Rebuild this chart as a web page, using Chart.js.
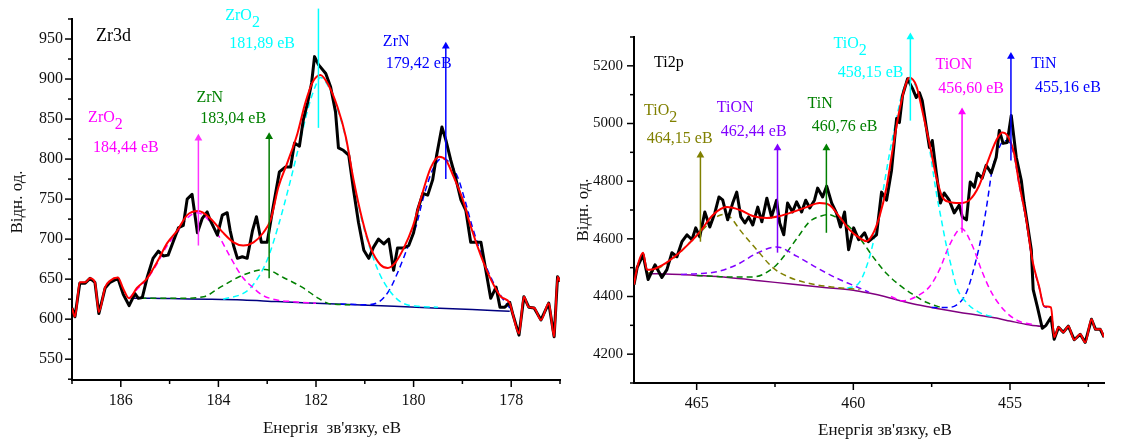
<!DOCTYPE html>
<html>
<head>
<meta charset="utf-8">
<script src="https://cdn.jsdelivr.net/npm/chart.js@4.4.1/dist/chart.umd.min.js"></script>
<style>
  html, body { margin: 0; padding: 0; background: #fff; }
  #wrap { position: relative; width: 1122px; height: 445px; }
  .panel { position: absolute; top: 0; height: 445px; }
  #zrBox { left: 0; width: 575px; }
  #tiBox { left: 575px; width: 547px; }
</style>
</head>
<body>
<div id="wrap">
  <div class="panel" id="zrBox"><canvas id="zrChart" width="575" height="445"></canvas></div>
  <div class="panel" id="tiBox"><canvas id="tiChart" width="547" height="445"></canvas></div>
</div>
<script>
// ---------- Zr3d ----------
const zrExpE = [187.00,186.94,186.84,186.73,186.63,186.53,186.45,186.32,186.22,186.06,185.95,185.83,185.71,185.64,185.56,185.46,185.34,185.23,185.13,185.03,184.93,184.82,184.72,184.64,184.54,184.43,184.33,184.23,184.17,184.02,183.92,183.82,183.76,183.69,183.61,183.51,183.41,183.30,183.22,183.12,183.00,182.89,182.75,182.63,182.52,182.44,182.34,182.26,182.17,182.09,182.03,181.95,181.80,181.70,181.60,181.54,181.44,181.33,181.23,181.13,181.02,180.92,180.82,180.72,180.61,180.51,180.41,180.33,180.20,180.10,180.00,179.92,179.81,179.71,179.61,179.53,179.42,179.34,179.24,179.14,179.03,178.93,178.83,178.72,178.62,178.52,178.42,178.31,178.23,178.13,178.03,177.97,177.84,177.74,177.64,177.53,177.39,177.23,177.12,177.05,177.00];
const zrExp = [614,603,645,645,651,646,607,639,646,651,631,617,632,626,627,652,676,685,679,680,696,714,717,750,756,708,726,734,724,705,730,733,711,692,676,678,676,711,728,696,696,736,784,790,790,820,816,849,871,895,928,918,907,890,859,814,811,805,761,721,686,676,690,700,694,700,661,689,689,692,708,736,757,755,774,804,840,824,799,777,749,736,696,696,696,661,626,640,615,615,621,607,580,628,615,614,599,620,578,653,647];

const zrFitE = [187.00,186.94,186.84,186.73,186.63,186.53,186.45,186.32,186.22,186.06,185.95,185.83,185.67,185.46,185.25,185.05,184.84,184.64,184.41,184.17,183.92,183.69,183.49,183.28,183.08,182.93,182.77,182.59,182.38,182.22,182.07,181.91,181.74,181.56,181.39,181.23,181.05,180.88,180.68,180.53,180.37,180.20,180.02,179.85,179.65,179.48,179.34,179.18,178.99,178.83,178.62,178.42,178.21,178.03,177.97,177.84,177.74,177.64,177.53,177.39,177.23,177.12,177.05,177.00];
const zrFit = [614,603,646,646,651,646,609,640,648,652,638,626,639,651,672,695,711,730,735,726,709,696,692,696,708,724,765,795,832,870,896,905,892,865,828,774,724,689,668,664,671,689,715,751,789,803,799,778,749,716,679,650,628,620,607,582,628,615,614,599,620,578,653,647];

const zrBaseE = [185.75,185.4,184.8,184.2,183.5,182.8,182.0,181.2,180.4,179.6,178.8,178.03];
const zrBase = [626,626,625.5,625,624,622,620,618,616,614,612,610];

const zrO2aE = [185.83,185.67,185.46,185.25,185.05,184.84,184.64,184.44,184.25,184.02,183.76,183.5,183.3,183.1,182.8,182.5,182.0];
const zrO2a = [626,637,650,670,692,708,726,733,727,707,678,652,640,630,624,622,620];

const zrNaE = [185.6,184.8,184.3,183.96,183.5,183.04,182.67,182.26,182.0,181.7,181.3];
const zrNa = [626,626,628,640,655,662,652,639,628,619,618];

const zrO2bE = [183.9,183.5,183.3,183.0,182.78,182.52,182.32,182.15,182.0,181.91,181.74,181.56,181.39,181.23,181.05,180.88,180.7,180.5,180.25,179.9,179.5];
const zrO2b = [625,632,642,674,715,774,824,866,893,902,890,862,826,772,721,686,657,636,621,616,615];

const zrNbE = [181.5,181.0,180.7,180.5,180.3,180.12,179.95,179.8,179.6,179.42,179.3,179.1,178.95,178.8,178.6,178.4,178.2,178.03];
const zrNb = [619,618,622,636,662,690,716,752,788,801,798,778,749,716,679,650,628,614];

const zrArrowE = [184.41, 182.96, 181.95, 179.34];
const zrArrowLow = [692, 651, 839, 775];
const zrArrowHigh = [826, 828, 988, 941];
const zrArrowColor = ['#ff33ff', '#007a00', '#00ffff', '#0000ff'];

const zrYTicks = [550, 600, 650, 700, 750, 800, 850, 900, 950];
const zrYLabels = ['550', '600', '650', '700', '750', '800', '850', '900', '950'];
const zrYMinor = [525, 575, 625, 675, 725, 775, 825, 875, 925, 975];
const zrXTicks = [186, 184, 182, 180, 178];
const zrXLabels = ['186', '184', '182', '180', '178'];
const zrXMinor = [187, 185, 183, 181, 179, 177];

// ---------- Ti2p ----------
const tiExpE = [467.00,466.90,466.71,466.55,466.33,466.11,465.95,465.79,465.63,465.47,465.31,465.15,465.03,464.90,464.74,464.58,464.42,464.29,464.17,464.01,463.85,463.72,463.59,463.46,463.34,463.21,463.05,462.92,462.76,462.61,462.45,462.35,462.22,462.10,461.94,461.81,461.65,461.52,461.39,461.24,461.14,460.98,460.85,460.69,460.54,460.41,460.28,460.15,459.99,459.83,459.64,459.52,459.26,459.10,458.94,458.78,458.62,458.53,458.43,458.27,458.11,457.99,457.89,457.80,457.67,457.57,457.48,457.35,457.22,457.10,456.94,456.78,456.62,456.52,456.39,456.27,456.14,456.04,455.89,455.76,455.60,455.44,455.34,455.22,455.09,454.96,454.80,454.64,454.55,454.45,454.32,454.26,454.13,453.97,453.85,453.69,453.59,453.45,453.30,453.14,452.95,452.76,452.60,452.40,452.27,452.12,452.00];
const tiExp = [4441,4500,4545,4459,4510,4466,4493,4552,4538,4590,4614,4597,4638,4607,4693,4641,4690,4745,4735,4666,4724,4762,4676,4655,4676,4648,4710,4659,4741,4676,4734,4655,4614,4724,4693,4728,4693,4734,4707,4734,4776,4745,4783,4724,4690,4641,4693,4562,4638,4597,4621,4590,4614,4762,4734,4838,5017,5003,5097,5155,5121,5090,5107,5079,4986,4917,4941,4828,4724,4759,4734,4690,4717,4676,4666,4797,4779,4828,4810,4855,4828,4883,4976,4931,4934,5028,4883,4803,4724,4655,4562,4424,4366,4290,4300,4328,4252,4293,4276,4297,4250,4269,4241,4321,4286,4286,4259];

const tiFitE = [467.00,466.90,466.71,466.59,466.49,466.08,465.63,465.22,464.90,464.48,464.04,463.62,463.21,462.76,462.35,461.94,461.49,461.08,460.76,460.44,460.12,459.80,459.58,459.39,459.17,458.94,458.75,458.53,458.31,458.21,457.99,457.80,457.57,457.35,457.16,456.94,456.62,456.30,455.98,455.73,455.44,455.25,455.09,454.87,454.71,454.48,454.29,454.07,453.91,453.69,453.59,453.45,453.30,453.14,452.95,452.76,452.60,452.40,452.27,452.12,452.00];
const tiFit = [4441,4500,4552,4493,4493,4510,4545,4586,4624,4683,4710,4700,4679,4672,4679,4693,4710,4724,4717,4676,4631,4603,4592,4614,4676,4779,4907,5045,5141,5159,5131,5045,4931,4814,4745,4728,4724,4734,4786,4862,4941,4969,4959,4897,4793,4666,4528,4434,4366,4362,4259,4293,4276,4297,4250,4269,4241,4321,4286,4286,4259];

const tiBaseE = [466.55,465.5,465.0,464.0,463.0,462.0,461.0,460.0,459.5,459.0,458.5,458.0,457.5,457.0,456.5,456.0,455.5,455.0,454.5,454.0,453.85];
const tiBase = [4480,4476,4473,4466,4455,4443,4432,4422,4412,4400,4385,4372,4362,4352,4343,4335,4326,4315,4304,4297,4300];

const tiO2aE = [466.55,466.1,465.6,465.2,464.9,464.6,464.3,464.1,463.9,463.62,463.08,462.57,462.03,461.39,460.6,459.8];
const tiO2a = [4480,4505,4545,4590,4620,4655,4680,4685,4672,4631,4562,4500,4466,4445,4432,4424];

const tiONaE = [465.5,464.99,464.36,463.72,463.08,462.45,461.81,461.17,460.54,460.03,459.5];
const tiONa = [4476,4479,4486,4510,4550,4572,4540,4500,4464,4440,4415];

const tiNaE = [465.0,464.0,463.2,462.57,462.25,461.81,461.39,461.0,460.76,460.54,460.12,459.71,459.39,458.94,458.53,458.11,457.67,457.2];
const tiNa = [4473,4468,4468,4498,4535,4600,4660,4680,4684,4674,4641,4590,4540,4480,4440,4408,4380,4362];

const tiO2bE = [460.2,459.8,459.48,459.26,459.07,458.85,458.62,458.43,458.21,458.0,457.89,457.67,457.51,457.35,457.19,457.03,456.87,456.71,456.39,455.98,455.5];
const tiO2b = [4428,4450,4538,4641,4755,4893,5018,5110,5150,5128,5090,4986,4872,4759,4666,4576,4503,4434,4379,4345,4328];

const tiONbE = [458.8,458.43,457.99,457.57,457.25,456.94,456.55,456.2,455.89,455.57,455.12,454.71,454.3];
const tiONb = [4400,4385,4400,4434,4493,4576,4636,4576,4486,4410,4345,4314,4304];

const tiNbE = [457.5,457.03,456.71,456.39,456.08,455.89,455.73,455.57,455.35,455.2,455.09,454.87,454.71,454.48,454.29,454.07,453.91,453.69];
const tiNb = [4362,4362,4370,4414,4528,4621,4724,4838,4915,4940,4940,4890,4790,4662,4525,4432,4366,4360];

const tiArrowE = [464.88, 462.42, 460.86, 458.18, 456.53, 454.97];
const tiArrowLow = [4590, 4552, 4621, 5010, 4621, 4872];
const tiArrowHigh = [4890, 4915, 4915, 5300, 5040, 5232];
const tiArrowColor = ['#808000', '#8000ff', '#008000', '#00ffff', '#ff00ff', '#0000ff'];

const tiYTicks = [4200, 4400, 4600, 4800, 5000, 5200];
const tiYLabels = ['4200', '4400', '4600', '4800', '5000', '5200'];
const tiYMinor = [4100, 4300, 4500, 4700, 4900, 5100, 5300];
const tiXTicks = [465, 460, 455];
const tiXLabels = ['465', '460', '455'];
const tiXMinor = [462.5, 457.5, 452.5];

// ---------- text notes: [text, subscript, eV, counts, colour, size] ----------
const zrNotes = [
  ['Zr3d', '', 186.51, 954, '#000', 18],
  ['ZrO', '2', 183.86, 979, '#00ffff', 16],
  ['181,89 eB', '', 183.78, 944, '#00ffff', 16],
  ['ZrN', '', 184.45, 876, '#008000', 16],
  ['183,04 eB', '', 184.37, 850, '#008000', 16],
  ['ZrO', '2', 186.67, 851, '#ff00ff', 16],
  ['184,44 eB', '', 186.57, 814, '#ff00ff', 16],
  ['ZrN', '', 180.63, 946, '#0000ff', 16],
  ['179,42 eB', '', 180.57, 919, '#0000ff', 16]
];
const tiNotes = [
  ['Ti2p', '', 466.36, 5210, '#000', 16],
  ['TiO', '2', 466.68, 5045, '#808000', 16],
  ['464,15 eB', '', 466.59, 4948, '#808000', 16],
  ['TiON', '', 464.36, 5055, '#8000ff', 16],
  ['462,44 eB', '', 464.23, 4972, '#8000ff', 16],
  ['TiN', '', 461.46, 5069, '#008000', 16],
  ['460,76 eB', '', 461.33, 4990, '#008000', 16],
  ['TiO', '2', 460.63, 5276, '#00ffff', 16],
  ['458,15 eB', '', 460.50, 5176, '#00ffff', 16],
  ['TiON', '', 457.38, 5203, '#ff00ff', 16],
  ['456,60 eB', '', 457.29, 5121, '#ff00ff', 16],
  ['TiN', '', 454.32, 5207, '#0000ff', 16],
  ['455,16 eB', '', 454.20, 5124, '#0000ff', 16]
];

Chart.defaults.font.family = "'Liberation Serif', 'Times New Roman', serif";
Chart.defaults.color = '#111';

const pts = (xs, ys) => xs.map((x, i) => ({ x, y: ys[i] }));

function solid(xs, ys, color, width, order, smooth) {
  return {
    data: pts(xs, ys), borderColor: color, borderWidth: width, order,
    pointRadius: 0, fill: false, borderJoinStyle: 'round',
    cubicInterpolationMode: smooth ? 'monotone' : 'default', tension: 0
  };
}
function dashed(xs, ys, color, order) {
  const d = solid(xs, ys, color, 1.5, order, true);
  d.borderDash = [6, 4];
  return d;
}
function arrows(es, lows, highs, colors) {
  return es.map((e, i) => ({
    data: [{ x: e, y: lows[i] }, { x: e, y: highs[i] }],
    borderColor: colors[i], backgroundColor: colors[i], borderWidth: 1.5,
    pointRadius: [0, 4.5], pointStyle: 'triangle', pointBorderWidth: 0,
    pointBackgroundColor: colors[i], order: 0, clip: false
  }));
}

const decor = {
  id: 'decor',
  afterDraw(chart, args, o) {
    const { ctx, chartArea: a } = chart;
    const xs = chart.scales.x, ys = chart.scales.y;
    ctx.save();
    ctx.strokeStyle = '#000';
    ctx.lineWidth = 1.5;
    const tick = (x1, y1, x2, y2) => { ctx.beginPath(); ctx.moveTo(x1, y1); ctx.lineTo(x2, y2); ctx.stroke(); };
    o.xMajor.forEach(v => { const p = xs.getPixelForValue(v); tick(p, a.bottom, p, a.bottom + 7); });
    o.xMinor.forEach(v => { const p = xs.getPixelForValue(v); tick(p, a.bottom, p, a.bottom + 4); });
    o.yMajor.forEach(v => { const p = ys.getPixelForValue(v); tick(a.left - 7, p, a.left, p); });
    o.yMinor.forEach(v => { const p = ys.getPixelForValue(v); tick(a.left - 4, p, a.left, p); });

    ctx.textBaseline = 'middle';
    ctx.textAlign = 'left';
    o.notes.forEach(([t, sub, e, v, color, size]) => {
      const x = xs.getPixelForValue(e), y = ys.getPixelForValue(v);
      ctx.font = size + "px 'Liberation Serif'";
      ctx.fillStyle = color;
      ctx.fillText(t, x, y);
      if (sub) ctx.fillText(sub, x + ctx.measureText(t).width, y + 7);
    });

    ctx.fillStyle = '#111';
    ctx.font = "17px 'Liberation Serif'";
    ctx.textAlign = 'center';
    ctx.fillText(o.xTitle, o.xTitlePos[0], o.xTitlePos[1]);
    ctx.translate(o.yTitlePos[0], o.yTitlePos[1]);
    ctx.rotate(-Math.PI / 2);
    ctx.fillText(o.yTitle, 0, 0);
    ctx.restore();
  }
};

function makeChart(id, cfg) {
  return new Chart(document.getElementById(id), {
    type: 'line',
    data: { datasets: cfg.datasets },
    options: {
      responsive: false, animation: false, devicePixelRatio: 1, events: [],
      layout: { padding: cfg.pad },
      plugins: { legend: { display: false }, tooltip: { enabled: false }, decor: cfg.decor },
      scales: {
        x: {
          type: 'linear', reverse: true, min: cfg.xMin, max: cfg.xMax,
          afterBuildTicks: s => { s.ticks = cfg.xTicks.map(v => ({ value: v })); },
          afterFit: s => { s.height = cfg.xAxisH; },
          ticks: { autoSkip: false, maxRotation: 0, padding: 11, font: { size: 16 }, callback: (v, i) => cfg.xLabels[i] },
          grid: { display: false, drawTicks: false },
          border: { display: true, color: '#000', width: 2 }
        },
        y: {
          min: cfg.yMin, max: cfg.yMax,
          afterBuildTicks: s => { s.ticks = cfg.yTicks.map(v => ({ value: v })); },
          afterFit: s => { s.width = cfg.yAxisW; },
          ticks: { autoSkip: false, padding: cfg.yPad, font: { size: cfg.yFont }, callback: (v, i) => cfg.yLabels[i] },
          grid: { display: false, drawTicks: false },
          border: { display: true, color: '#000', width: 2 }
        }
      }
    },
    plugins: [decor]
  });
}

makeChart('zrChart', {
  pad: { left: 0, right: 15, top: 19, bottom: 0 },
  xAxisH: 65, yAxisW: 72, yPad: 9, yFont: 16,
  xMin: 177, xMax: 187, yMin: 524, yMax: 975,
  xTicks: zrXTicks, xLabels: zrXLabels, yTicks: zrYTicks, yLabels: zrYLabels,
  decor: {
    xMajor: zrXTicks, xMinor: zrXMinor, yMajor: zrYTicks, yMinor: zrYMinor, notes: zrNotes,
    xTitle: "Енергія  зв'язку, еВ", xTitlePos: [332, 429],
    yTitle: 'Відн. од.', yTitlePos: [18, 202]
  },
  datasets: [
    ...arrows(zrArrowE, zrArrowLow, zrArrowHigh, zrArrowColor),
    solid(zrFitE, zrFit, '#ff0000', 2, 1, true),
    solid(zrExpE, zrExp, '#000000', 3, 2, false),
    dashed(zrO2aE, zrO2a, '#ff00ff', 3),
    dashed(zrNaE, zrNa, '#008000', 3),
    dashed(zrO2bE, zrO2b, '#00ffff', 3),
    dashed(zrNbE, zrNb, '#0000ff', 3),
    solid(zrBaseE, zrBase, '#000080', 1.5, 4, true)
  ]
});

makeChart('tiChart', {
  pad: { left: 0, right: 18, top: 37, bottom: 0 },
  xAxisH: 62, yAxisW: 59, yPad: 11, yFont: 15,
  xMin: 452, xMax: 467, yMin: 4100, yMax: 5300,
  xTicks: tiXTicks, xLabels: tiXLabels, yTicks: tiYTicks, yLabels: tiYLabels,
  decor: {
    xMajor: tiXTicks, xMinor: tiXMinor, yMajor: tiYTicks, yMinor: tiYMinor, notes: tiNotes,
    xTitle: "Енергія зв'язку, еВ", xTitlePos: [310, 431],
    yTitle: 'Відн. од.', yTitlePos: [9, 210]
  },
  datasets: [
    ...arrows(tiArrowE, tiArrowLow, tiArrowHigh, tiArrowColor),
    solid(tiFitE, tiFit, '#ff0000', 2, 1, true),
    solid(tiExpE, tiExp, '#000000', 3, 2, false),
    dashed(tiO2aE, tiO2a, '#808000', 3),
    dashed(tiONaE, tiONa, '#8000ff', 3),
    dashed(tiNaE, tiNa, '#008000', 3),
    dashed(tiO2bE, tiO2b, '#00ffff', 3),
    dashed(tiONbE, tiONb, '#ff00ff', 3),
    dashed(tiNbE, tiNb, '#0000ff', 3),
    solid(tiBaseE, tiBase, '#800080', 1.5, 4, true)
  ]
});
</script>
</body>
</html>
